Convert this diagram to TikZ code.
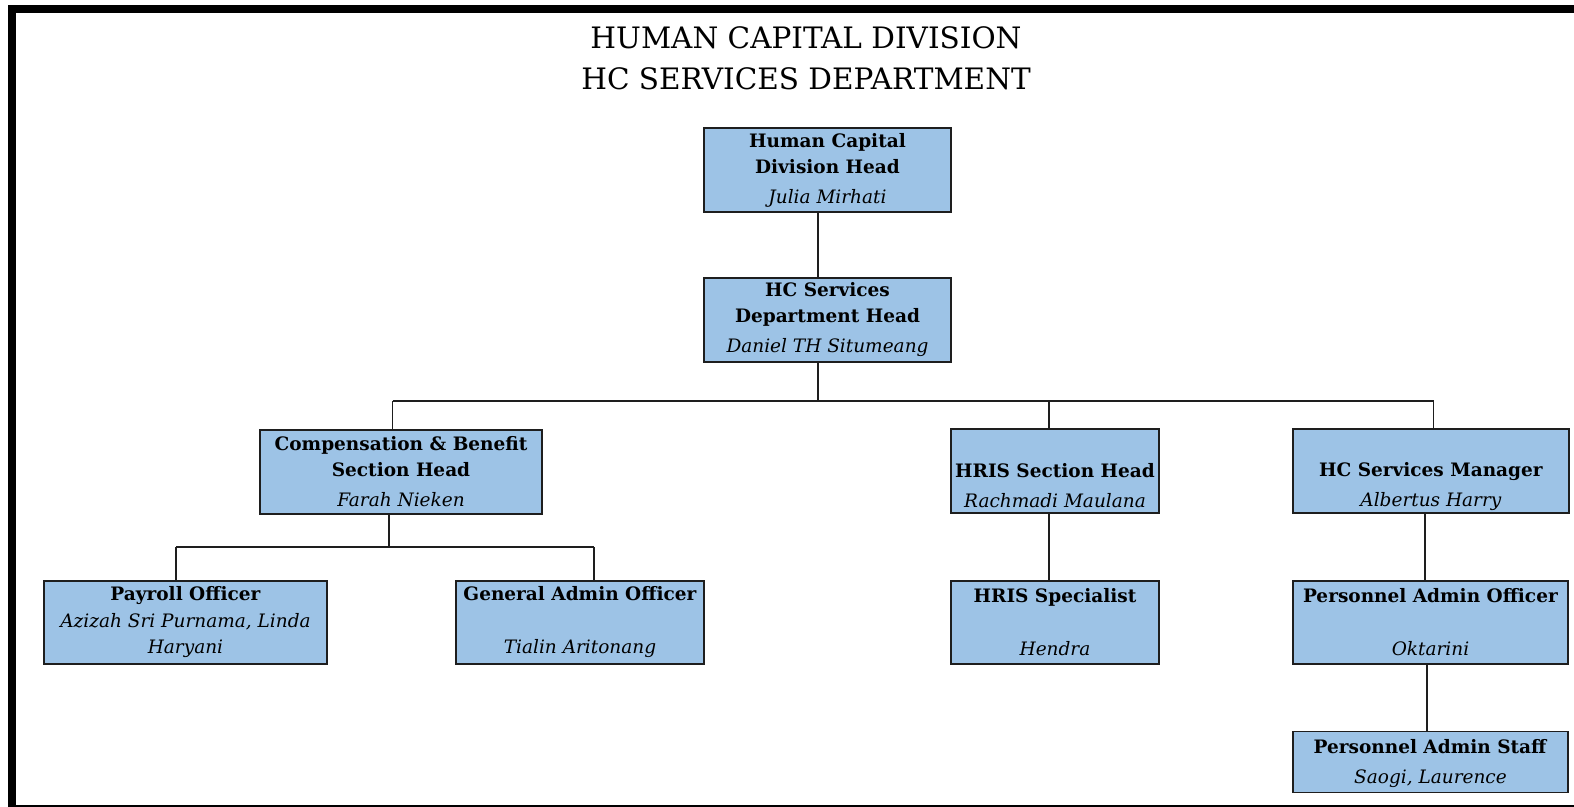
\documentclass[tikz,border=0pt]{standalone}
\usepackage{fontspec}
\setmainfont{DejaVu Serif}
\definecolor{boxblue}{RGB}{157,195,230}
\definecolor{edge}{RGB}{30,30,30}
\tikzset{
  ocbox/.style={draw=edge, line width=1.4pt, fill=boxblue, inner sep=0pt,
    align=center, font=\fontsize{18.5}{26}\selectfont},
  conn/.style={draw=edge, line width=1.4pt},
  ttl/.style={font=\fontsize{29.5}{41}\selectfont, align=center, inner sep=0pt}
}
\newcommand{\nm}[1]{\\[4pt]\textit{#1}}
\begin{document}
\begin{tikzpicture}[x=1pt,y=-1pt]
\useasboundingbox (0,0) rectangle (1574,806);
\begin{scope}
\clip (0,0) rectangle (1574,806);
\draw[line width=8pt] (12,9) rectangle (1590,808.5);
\end{scope}

\node[ttl] (title) at (806,58) {HUMAN CAPITAL DIVISION\\HC SERVICES DEPARTMENT};

\node[ocbox, minimum width=247pt, minimum height=84pt] (top) at (827.5,170)
  {\textbf{Human Capital}\\\textbf{Division Head}\nm{Julia Mirhati}};
\node[ocbox, minimum width=247pt, minimum height=84pt] (dept) at (827.5,320)
  {\textbf{HC Services}\\\textbf{Department Head}\nm{Daniel TH Situmeang}};
\node[ocbox, minimum width=282pt, minimum height=84pt] (comp) at (401,472)
  {\textbf{Compensation \& Benefit}\\\textbf{Section Head}\nm{Farah Nieken}};
\node[ocbox, minimum width=208pt, minimum height=84pt] (hris) at (1055,471)
  {\strut\\\textbf{HRIS Section Head}\nm{Rachmadi Maulana}};
\node[ocbox, minimum width=276pt, minimum height=84pt] (mgr) at (1431,471)
  {\strut\\\textbf{HC Services Manager}\nm{Albertus Harry}};
\node[ocbox, minimum width=283pt, minimum height=83pt] (pay) at (185.5,622.5)
  {\textbf{Payroll Officer}\\[1pt]\textit{Azizah Sri Purnama, Linda}\\\textit{Haryani}};
\node[ocbox, minimum width=248pt, minimum height=83pt] (gen) at (580,622.5)
  {\textbf{General Admin Officer}\\[1pt]\strut\\\textit{Tialin Aritonang}};
\node[ocbox, minimum width=208pt, minimum height=83pt] (hspec) at (1055,622.5)
  {\textbf{HRIS Specialist}\\[1pt]\strut\\\textit{Hendra}};
\node[ocbox, minimum width=275pt, minimum height=83pt] (pao) at (1430.5,622.5)
  {\textbf{Personnel Admin Officer}\\[1pt]\strut\\\textit{Oktarini}};
\node[ocbox, minimum width=275pt, minimum height=61pt, text depth=2pt] (pas) at (1430.5,762)
  {\textbf{Personnel Admin Staff}\nm{Saogi, Laurence}};

% connectors
\coordinate (busL) at (392.5,401);
\coordinate (busR) at (1433.5,401);
\coordinate (subL) at (176,547);
\coordinate (subR) at (594,547);
\coordinate (hrisTop) at ([xshift=-6pt]hris.north);
\coordinate (compBot) at ([xshift=-12pt]comp.south);

\draw[conn] ([xshift=-9.5pt]top.south) -- ([xshift=-9.5pt]dept.north);
\draw[conn] ([xshift=-9.5pt]dept.south) -- ([xshift=-9.5pt]dept.south |- busL);
\draw[conn] (busL) -- (busR);
\draw[conn] (busL) -- ([xshift=-8.5pt]comp.north);
\draw[conn] (hrisTop |- busL) -- (hrisTop);
\draw[conn] (busR) -- ([xshift=2.5pt]mgr.north);
\draw[conn] (compBot) -- (compBot |- subL);
\draw[conn] (subL) -- (subR);
\draw[conn] (subL) -- ([xshift=-9.5pt]pay.north);
\draw[conn] (subR) -- ([xshift=14pt]gen.north);
\draw[conn] ([xshift=-6pt]hris.south) -- ([xshift=-6pt]hspec.north);
\draw[conn] ([xshift=-6pt]mgr.south) -- ([xshift=-5.5pt]pao.north);
\draw[conn] ([xshift=-3.5pt]pao.south) -- ([xshift=-3.5pt]pas.north);
\end{tikzpicture}
\end{document}
